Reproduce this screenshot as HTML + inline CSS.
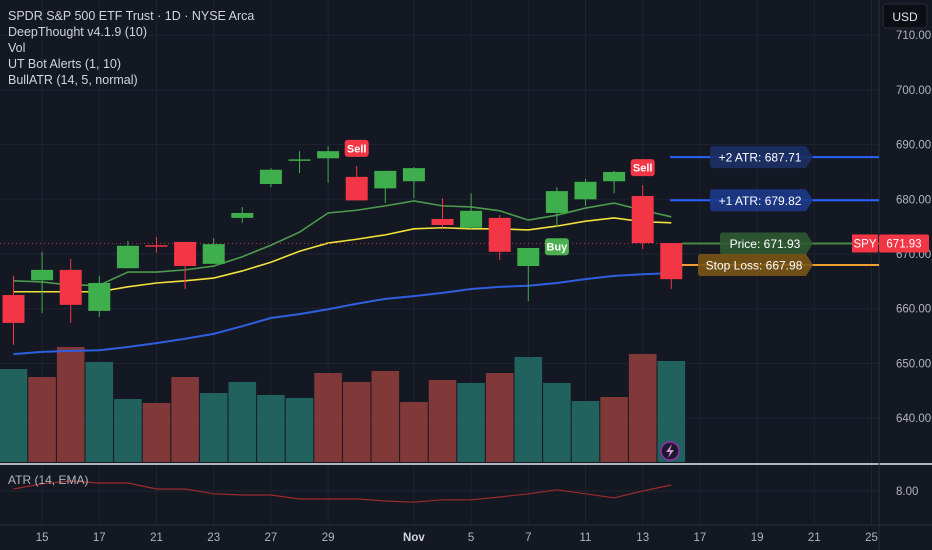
<!DOCTYPE html>
<html><head><meta charset="utf-8"><style>
html,body{margin:0;padding:0;background:#131722;}
svg{display:block;font-family:"Liberation Sans",sans-serif;}
</style></head><body>
<svg id="c" width="932" height="550" viewBox="0 0 932 550">
<rect x="0" y="0" width="932" height="550" fill="#141823"/>
<g id="grid"></g>
<g id="vol"></g>
<g id="ma"></g>
<g id="candles"></g>
<g id="atr"></g>
<g id="axes"></g>
<g id="ann"></g>
<g font-size="12.5" fill="#d1d4dc">
<text x="8" y="20">SPDR S&amp;P 500 ETF Trust · 1D · NYSE Arca</text>
<text x="8" y="36">DeepThought v4.1.9   (10)</text>
<text x="8" y="52">Vol</text>
<text x="8" y="68">UT Bot Alerts (1, 10)</text>
<text x="8" y="84">BullATR (14, 5, normal)</text>
</g>
<g>
<rect x="883" y="4" width="44" height="24" rx="4" fill="#0c0e14" stroke="#2a2e39"/>
<text x="905" y="21" font-size="12" fill="#e0e3eb" text-anchor="middle">USD</text>
</g>
</svg>
<script>
const opens=[662.5,665.2,667.1,659.6,667.4,671.6,672.2,668.2,676.6,682.8,687.1,687.5,684.1,682.0,683.3,676.4,674.8,676.6,667.8,677.5,680.0,683.3,680.6,672.0];
const highs=[666.0,670.4,669.1,666.0,672.4,673.1,672.2,672.9,678.6,685.7,688.8,689.7,686.1,685.2,685.9,680.2,681.1,677.1,671.1,682.2,683.7,685.2,682.6,672.0];
const lows=[653.4,659.2,657.4,658.5,667.4,670.2,663.6,668.2,675.7,682.2,684.8,683.0,679.8,679.3,680.2,674.8,674.4,668.9,661.4,674.9,678.8,681.1,670.9,663.6];
const closes=[657.4,667.1,660.7,664.7,671.5,671.4,667.8,671.8,677.5,685.4,687.3,688.8,679.8,685.2,685.7,675.3,677.9,670.4,671.1,681.5,683.2,685.0,672.0,665.4];
const emaFast=[665.1,664.9,664.3,664.3,666.7,666.7,667.1,667.8,669.5,671.6,674.0,677.5,678.0,678.8,679.7,678.8,678.6,677.9,676.2,677.1,678.4,679.3,678.0,676.8];
const emaMid=[663.1,663.1,663.1,663.1,664.0,664.7,665.1,665.6,666.9,668.5,670.5,672.0,672.7,673.5,674.6,674.8,674.6,674.6,674.4,675.1,676.0,676.6,675.9,675.7];
const emaSlow=[651.7,652.1,652.3,652.4,653.0,653.7,654.5,655.4,656.8,658.3,659.0,659.9,660.9,661.8,662.3,662.9,663.6,664.0,664.2,664.7,665.4,666.0,666.3,666.5];
const volumes=[93,85,115,100,63,59,85,69,80,67,64,89,80,91,60,82,79,89,105,79,61,65,108,101];
const volUp=[1,0,0,1,1,0,0,1,1,1,1,0,0,0,0,0,1,0,1,1,1,0,0,1];
const atrVals=[8.05,8.18,8.25,8.2,8.2,8.05,8.05,7.93,7.9,7.9,7.8,7.8,7.8,7.75,7.72,7.78,7.78,7.85,7.93,8.03,7.93,7.83,8.0,8.15];
const priceTicks=[710,700,690,680,670,660,650,640];
const dateLabels=["15","17","21","23","27","29","Nov","5","7","11","13","17","19","21","25"];
const dateIdx=[1,3,5,7,9,11,14,16,18,20,22,24,26,28,30];
const levels=[687.71,679.82,671.93,667.98];
const levelNames=["+2 ATR","+1 ATR","Price","Stop Loss"];
const signals=[{i:12,t:"Sell"},{i:22,t:"Sell"},{i:19,t:"Buy"}];

const NS="http://www.w3.org/2000/svg";
const X=i=>13.5+28.6*i;
const Y=p=>254-(p-670)*5.47;
const VY=v=>462-v*1.0;
const AY=a=>491-(a-8)*40;
function mk(par,tag,at){const e=document.createElementNS(NS,tag);for(const k in at)e.setAttribute(k,at[k]);document.getElementById(par).appendChild(e);return e;}

priceTicks.forEach(p=>{const l=mk('grid','line',{x1:0,x2:879,y1:Y(p),y2:Y(p),stroke:'#1f2330'});

});
mk('grid','line',{x1:0,x2:879,y1:AY(8),y2:AY(8),stroke:'#1f2330'});
dateIdx.forEach(i=>{const l=mk('grid','line',{x1:X(i),x2:X(i),y1:0,y2:525,stroke:'#1f2330'});

});

volumes.forEach((v,i)=>{const r=mk('vol','rect',{x:X(i)-13.8,y:VY(v),width:27.6,height:462-VY(v),fill:volUp[i]?'#22625e':'#813839'});

});

function line(arr,col,w,name){const d=arr.map((p,i)=>(i?'L':'M')+X(i)+' '+Y(p)).join(' ');const e=mk('ma','path',{d:d,stroke:col,'stroke-width':w,fill:'none'});

}
line(emaSlow,'#2f5fe0',2,'slow-ma-line');
line(emaMid,'#f3e03a',1.6,'mid-ma-line');
line(emaFast,'#4c9a4c',1.6,'fast-ma-line');

mk('ma','line',{x1:0,x2:879,y1:Y(671.93),y2:Y(671.93),stroke:'#b33040','stroke-dasharray':'1 3'});

opens.forEach((o,i)=>{const c=closes[i];const up=c>=o;const col=up?'#3fae4c':'#f23645';
const w=mk('candles','line',{x1:X(i),x2:X(i),y1:Y(highs[i]),y2:Y(lows[i]),stroke:col,'stroke-width':1});


const top=Y(Math.max(o,c)),h=Math.max(1.5,Math.abs(Y(o)-Y(c)));
const b=mk('candles','rect',{x:X(i)-11,y:top,width:22,height:h,fill:col});

});

mk('atr','line',{x1:0,x2:932,y1:464,y2:464,stroke:'#b2b5be','stroke-width':2});
const ad=atrVals.map((a,i)=>(i?'L':'M')+X(i)+' '+AY(a)).join(' ');
const ap=mk('atr','path',{d:ad,stroke:'#9c2b2b','stroke-width':1.2,fill:'none'});


const at=mk('atr','text',{x:8,y:484,'font-size':12,fill:'#b2b5be'});at.textContent='ATR (14, EMA)';


mk('atr','line',{x1:0,x2:932,y1:525,y2:525,stroke:'#2a2e39'});

mk('axes','line',{x1:879,x2:879,y1:0,y2:550,stroke:'#2a2e39'});
priceTicks.forEach(p=>{const t=mk('axes','text',{x:896,y:Y(p)+4,'font-size':11.5,fill:'#b2b5be'});t.textContent=p.toFixed(2);

});
const a8=mk('axes','text',{x:896,y:AY(8)+4,'font-size':11.5,fill:'#b2b5be'});a8.textContent='8.00';


dateLabels.forEach((s,k)=>{const t=mk('axes','text',{x:X(dateIdx[k]),y:541,'font-size':11.5,fill:s==='Nov'?'#d1d4dc':'#b2b5be','text-anchor':'middle','font-weight':s==='Nov'?'bold':'normal'});t.textContent=s;

});

signals.forEach(s=>{const buy=s.t==='Buy';const cx=X(s.i);
const cy=buy?Y(lows[s.i])+19:Y(highs[s.i])-18;
const g=mk('ann','g',{});


const r=document.createElementNS(NS,'rect');r.setAttribute('x',cx-12);r.setAttribute('y',cy-8);r.setAttribute('width',24);r.setAttribute('height',17);r.setAttribute('rx',3);r.setAttribute('fill',buy?'#4caf50':'#f23645');g.appendChild(r);
const t=document.createElementNS(NS,'text');t.setAttribute('x',cx);t.setAttribute('y',cy+4.5);t.setAttribute('font-size',11);t.setAttribute('fill','#fff');t.setAttribute('text-anchor','middle');t.setAttribute('font-weight','bold');t.textContent=s.t;g.appendChild(t);});

const lcol=['#2962ff','#2962ff','#4a8a3f','#f0a030'];
const bcol=['#1c2f66','#1c3a8a','#2f5a32','#7a5515'];
const bx=[710,710,720,698];
const lx0=[670,670,682,682];
levels.forEach((p,k)=>{const y=Y(p);
const ln=mk('ann','line',{x1:lx0[k],x2:879,y1:y,y2:y,stroke:lcol[k],'stroke-width':2});


const x0=bx[k],x1=806;
const bb=mk('ann','path',{d:`M${x0+3} ${y-11}H${x1}L${x1+7} ${y}L${x1} ${y+11}H${x0+3}Q${x0} ${y+11} ${x0} ${y+8}V${y-8}Q${x0} ${y-11} ${x0+3} ${y-11}Z`,fill:bcol[k],opacity:0.9});


const t=mk('ann','text',{x:(x0+x1)/2+2,y:y+4.5,'font-size':12,fill:'#fff','text-anchor':'middle'});t.textContent=levelNames[k]+': '+p.toFixed(2);

});

const py=Y(671.93);
const s1=mk('ann','rect',{x:852,y:py-9,width:26,height:18,fill:'#f23645'});


const st=mk('ann','text',{x:865,y:py+4,'font-size':11.5,fill:'#fff','text-anchor':'middle'});st.textContent='SPY';
const s2=mk('ann','rect',{x:879,y:py-9,width:50,height:18,fill:'#f23645',rx:2});


const pt=mk('ann','text',{x:904,y:py+4,'font-size':11.5,fill:'#fff','text-anchor':'middle'});pt.textContent='671.93';

const li=mk('ann','circle',{cx:670,cy:451,r:9,fill:'#1a1a2a',stroke:'#9c27b0','stroke-width':1.5});


mk('ann','path',{d:'M672 444 L666 452 L670 452 L668 458 L674 450 L670 450 Z',fill:'#ce93d8'});
</script>
</body></html>
